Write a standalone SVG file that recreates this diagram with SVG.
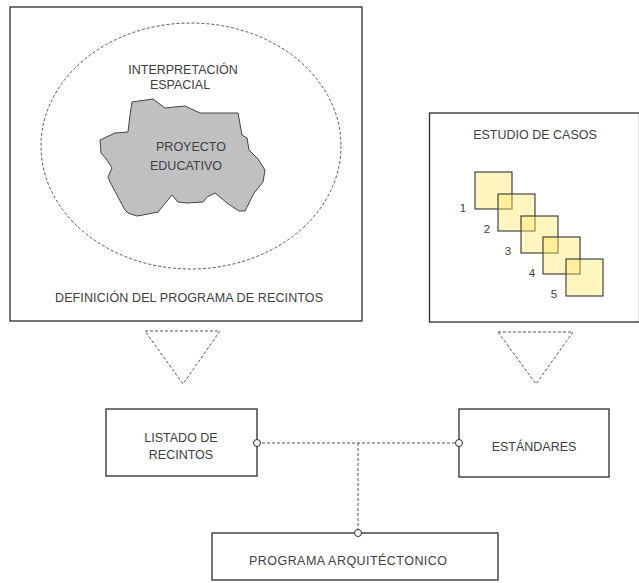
<svg xmlns="http://www.w3.org/2000/svg" width="639" height="583" viewBox="0 0 639 583">
<style>
  text { font-family: "Liberation Sans", Arial, sans-serif; font-size: 12.5px; fill: #404040; text-anchor: middle; }
  .box { fill: #ffffff; stroke: #2b2b2b; stroke-width: 1.3; }
  .dash { fill: none; stroke: #444; stroke-width: 0.9; stroke-dasharray: 3 2; }
  .sq { fill: #ffe866; fill-opacity: 0.42; stroke: #333; stroke-width: 1.1; }
  .dot { fill: #ffffff; stroke: #2b2b2b; stroke-width: 1; }
  .num { font-size: 11.5px; }
</style>
<rect width="639" height="583" fill="#ffffff"/>

<g id="definicion">
  <rect class="box" x="10" y="7" width="352" height="314"/>
  <ellipse class="dash" cx="191" cy="146" rx="150" ry="123"/>
  <text x="183" y="73.5">INTERPRETACIÓN</text>
  <text x="180" y="88.5">ESPACIAL</text>
  <polygon points="132,102 153,99 165,108 185,106 200,113 238,113 242,135 247,138 249,150 258,159 265,170 263,182 254,193 245,211 239,211 227,203 215,193 207,197 203,202 187,203 178,202 172,195 158,212 143,215 137,216 128,213 125,210 110,182 108,177 112,168 107,160 101,153 100,140 115,133 128,132 130,115" fill="#c0c0c3" stroke="#444" stroke-width="1"/>
  <text x="191" y="151">PROYECTO</text>
  <text x="186" y="170">EDUCATIVO</text>
  <text x="189" y="301.5" textLength="268" lengthAdjust="spacing">DEFINICIÓN DEL PROGRAMA DE RECINTOS</text>
</g>

<g id="estudio">
  <rect class="box" x="429.5" y="113" width="210" height="209"/>
  <text x="535" y="138.5">ESTUDIO DE CASOS</text>
  <rect class="sq" x="475" y="172" width="37" height="37"/>
  <rect class="sq" x="498" y="194" width="37" height="37"/>
  <rect class="sq" x="521" y="216" width="37" height="37"/>
  <rect class="sq" x="543" y="237" width="37" height="37"/>
  <rect class="sq" x="566" y="259" width="37" height="37"/>
  <text class="num" x="463" y="212">1</text>
  <text class="num" x="487" y="233">2</text>
  <text class="num" x="508" y="255">3</text>
  <text class="num" x="532" y="277">4</text>
  <text class="num" x="554" y="298">5</text>
</g>

<g id="triangulo-izq">
  <polygon class="dash" points="145,331 220,331 183,384"/>
</g>
<g id="triangulo-der">
  <polygon class="dash" points="498,332 573,332 536,384"/>
</g>

<g id="connectors">
  <line class="dash" x1="257" y1="443" x2="459" y2="443"/>
  <line class="dash" x1="358" y1="443" x2="358" y2="533"/>
</g>

<g id="listado">
  <rect class="box" x="106" y="409" width="151" height="67"/>
  <text x="181" y="441.5">LISTADO DE</text>
  <text x="181" y="458.5">RECINTOS</text>
  <circle class="dot" cx="257" cy="443" r="3.5"/>
</g>

<g id="estandares">
  <rect class="box" x="459" y="409" width="150" height="68"/>
  <text x="534" y="451">ESTÁNDARES</text>
  <circle class="dot" cx="459" cy="443" r="3.5"/>
</g>

<g id="programa">
  <rect class="box" x="212" y="533" width="286" height="47"/>
  <text x="348" y="565" textLength="198" lengthAdjust="spacing">PROGRAMA ARQUITÉCTONICO</text>
  <circle class="dot" cx="358" cy="533" r="3.5"/>
</g>
</svg>
